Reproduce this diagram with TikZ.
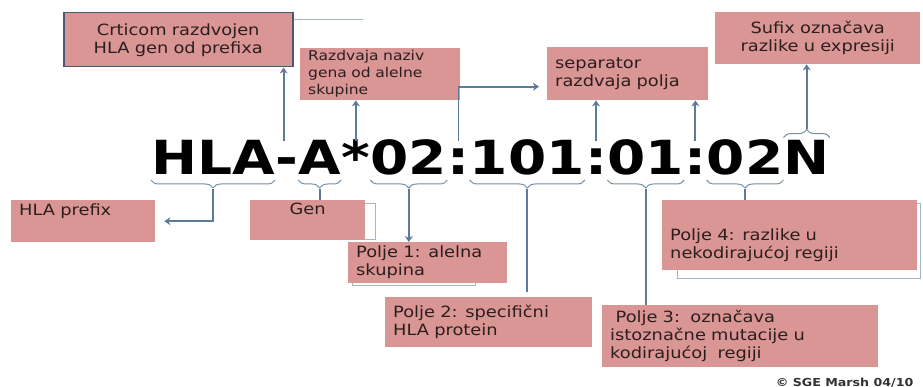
\documentclass[tikz,border=0pt]{standalone}
\usepackage{fontspec}
\setmainfont{DejaVu Sans}
\newfontfamily\hlafont{DejaVu Sans}[FakeStretch=1.17]
\newfontfamily\boxfont{DejaVu Sans}[FakeStretch=1.15]
\usetikzlibrary{arrows.meta,decorations.pathreplacing}
\definecolor{boxpink}{RGB}{217,150,148}
\definecolor{linblue}{RGB}{92,122,153}
\definecolor{edgeblue}{RGB}{72,88,118}
\definecolor{boxtxt}{RGB}{45,30,30}

\begin{document}
\begin{tikzpicture}[x=1pt,y=-1pt,
    seg/.style={inner sep=0pt, anchor=base west, font=\hlafont\bfseries\fontsize{47}{50}\selectfont},
    box/.style n args={3}{fill=boxpink, text=boxtxt, anchor=north west, inner xsep=8pt, inner ysep=2pt,
        font=\boxfont\fontsize{15.5}{18}\selectfont, text width=#1, minimum height=#2, align=#3},
    brc/.style={decorate, decoration={brace, amplitude=8pt}, draw=linblue!85, line width=1pt},
    brcd/.style={brc, decoration={mirror}},
    conn/.style={draw=linblue, line width=1.8pt},
    arr/.style={conn, -{Stealth[length=6pt,width=8pt]}},
    outl/.style={draw=linblue!55, line width=0.8pt}]
\useasboundingbox (0,0) rectangle (923,387);
% outlines behind the boxes
\draw[outl] (262,203) rectangle (375,239);
\draw[outl] (352,250) rectangle (475,285);
\draw[outl] (677,203) rectangle (920,278);
\draw[outl] (292,19) -- (363,19);
% the allele name
\node[seg] (hla) at (151,175) {HLA};
\node[seg] (dsh) at (hla.base east) {-};
\node[seg] (gen) at (dsh.base east) {A};
\node[seg] (ast) at (gen.base east) {*};
\node[seg] (f1) at (ast.base east) {02};
\node[seg] (c1) at (f1.base east) {:};
\node[seg] (f2) at (c1.base east) {101};
\node[seg] (c2) at (f2.base east) {:};
\node[seg] (f3) at (c2.base east) {01};
\node[seg] (c3) at (f3.base east) {:};
\node[seg] (f4) at (c3.base east) {02};
\node[seg] (sfx) at (f4.base east) {N};
% boxes above
\node[box={213pt}{54pt}{center}, draw=edgeblue, line width=1.5pt] (bcrt) at (63,12) {Crticom razdvojen\\HLA gen od prefixa};
\node[box={144pt}{52pt}{left}, font=\boxfont\fontsize{13.5}{17}\selectfont] (brazd) at (300,48) {Razdvaja naziv gena od alelne skupine};
\node[box={145pt}{53pt}{left}] (bsep) at (547,47) {separator\\razdvaja polja};
\node[box={189pt}{52pt}{center}] (bsuf) at (715,12) {Sufix označava\\razlike u expresiji};
% boxes below
\node[box={128pt}{42pt}{left}] (bpref) at (11,200) {HLA prefix\rule[-24pt]{0pt}{1pt}};
\node[box={99pt}{40pt}{center}] (bgen) at (250,200) {Gen\rule[-22pt]{0pt}{1pt}};
\node[box={143pt}{41pt}{left}] (bp1) at (348,242) {Polje 1: alelna\\skupina};
\node[box={191pt}{50pt}{left}] (bp2) at (385,297) {Polje 2: specifični\\HLA protein};
\node[box={260pt}{62pt}{left}] (bp3) at (602,305) {\hspace*{0.35em}Polje 3:\ \ označava\\istoznačne mutacije u\\kodirajućoj\ \ regiji};
\node[box={239pt}{70pt}{left}] (bp4) at (662,200) {\rule{0pt}{32pt}Polje 4: razlike u\\nekodirajućoj regiji};
% braces
\foreach \s in {hla,gen,f1,f2,f3,f4} {
    \draw[brcd] ([yshift=-5pt]\s.base west) -- ([yshift=-5pt]\s.base east);
    \coordinate (\s-t) at ([yshift=-14pt]\s.base);
}
\draw[brc] ([yshift=3pt]sfx.north west) -- ([yshift=3pt]sfx.north east);
\coordinate (sfx-t) at ([yshift=12pt]sfx.north);
% connectors down
\draw[arr, shorten >=9pt] (hla-t) |- (bpref.east);
\draw[conn] (gen-t) -- (gen-t |- bgen.north);
\draw[arr] (f1-t) -- (f1-t |- bp1.north);
\draw[conn, shorten >=5pt] (f2-t) -- (f2-t |- bp2.north);
\draw[conn] (f3-t) -- (f3-t |- bp3.north);
\draw[conn] (f4-t) -- (f4-t |- bp4.north);
% connectors up
\draw[arr] ([xshift=-3pt]dsh |- hla.north) -- ([xshift=-3pt]dsh |- bcrt.south);
\draw[arr] (ast |- hla.north) -- (ast |- brazd.south);
\draw[arr, shorten >=8pt] (c1 |- hla.north) |- ([yshift=-13pt]bsep.west);
\draw[arr] (c2 |- hla.north) -- (c2 |- bsep.south);
\draw[arr] (c3 |- hla.north) -- (c3 |- bsep.south);
\draw[arr] (sfx-t) -- (sfx-t |- bsuf.south);
% copyright
\node[anchor=base east, font=\boxfont\bfseries\fontsize{11}{12}\selectfont, text=black!80] (copy) at (917,386) {© SGE Marsh 04/10};
\end{tikzpicture}
\end{document}
